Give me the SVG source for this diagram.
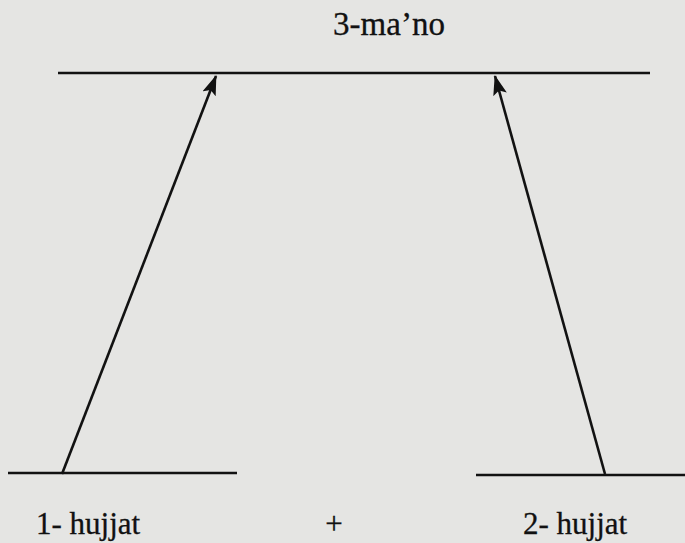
<svg xmlns="http://www.w3.org/2000/svg" width="685" height="543" viewBox="0 0 685 543">
<style>
.bar{stroke:#121212;stroke-width:2.5;fill:none}
.lbl{font-family:"Liberation Serif","Times New Roman",serif;fill:#111;stroke:#111;stroke-width:0.3}
.arrow{stroke:#121212;stroke-width:2.6;fill:none;marker-end:url(#head)}
</style>
<defs>
<marker id="head" markerUnits="userSpaceOnUse" markerWidth="20" markerHeight="14" viewBox="0 0 20 14" refX="19" refY="7" orient="auto">
<path d="M0,0 L20,7 L0,14 L4,7 Z" fill="#111"/>
</marker>
</defs>
<rect width="685" height="543" fill="#e5e5e3"/>
<g id="meaning3">
<line class="bar" x1="58" y1="73" x2="650" y2="73"/>
<text class="lbl" x="389" y="35" font-size="33" text-anchor="middle">3-ma’no</text>
</g>
<g id="doc1">
<line class="bar" x1="8" y1="473" x2="237" y2="473"/>
<text class="lbl" x="36" y="534" font-size="31">1- hujjat</text>
</g>
<g id="plus">
<text class="lbl" x="334" y="534" font-size="31" text-anchor="middle">+</text>
</g>
<g id="doc2">
<line class="bar" x1="476" y1="475" x2="685" y2="475"/>
<text class="lbl" x="523" y="534" font-size="31">2- hujjat</text>
</g>
<g id="connectors">
<line class="arrow" x1="62" y1="474" x2="216" y2="76"/>
<line class="arrow" x1="605" y1="474" x2="495" y2="76"/>
</g>
</svg>
